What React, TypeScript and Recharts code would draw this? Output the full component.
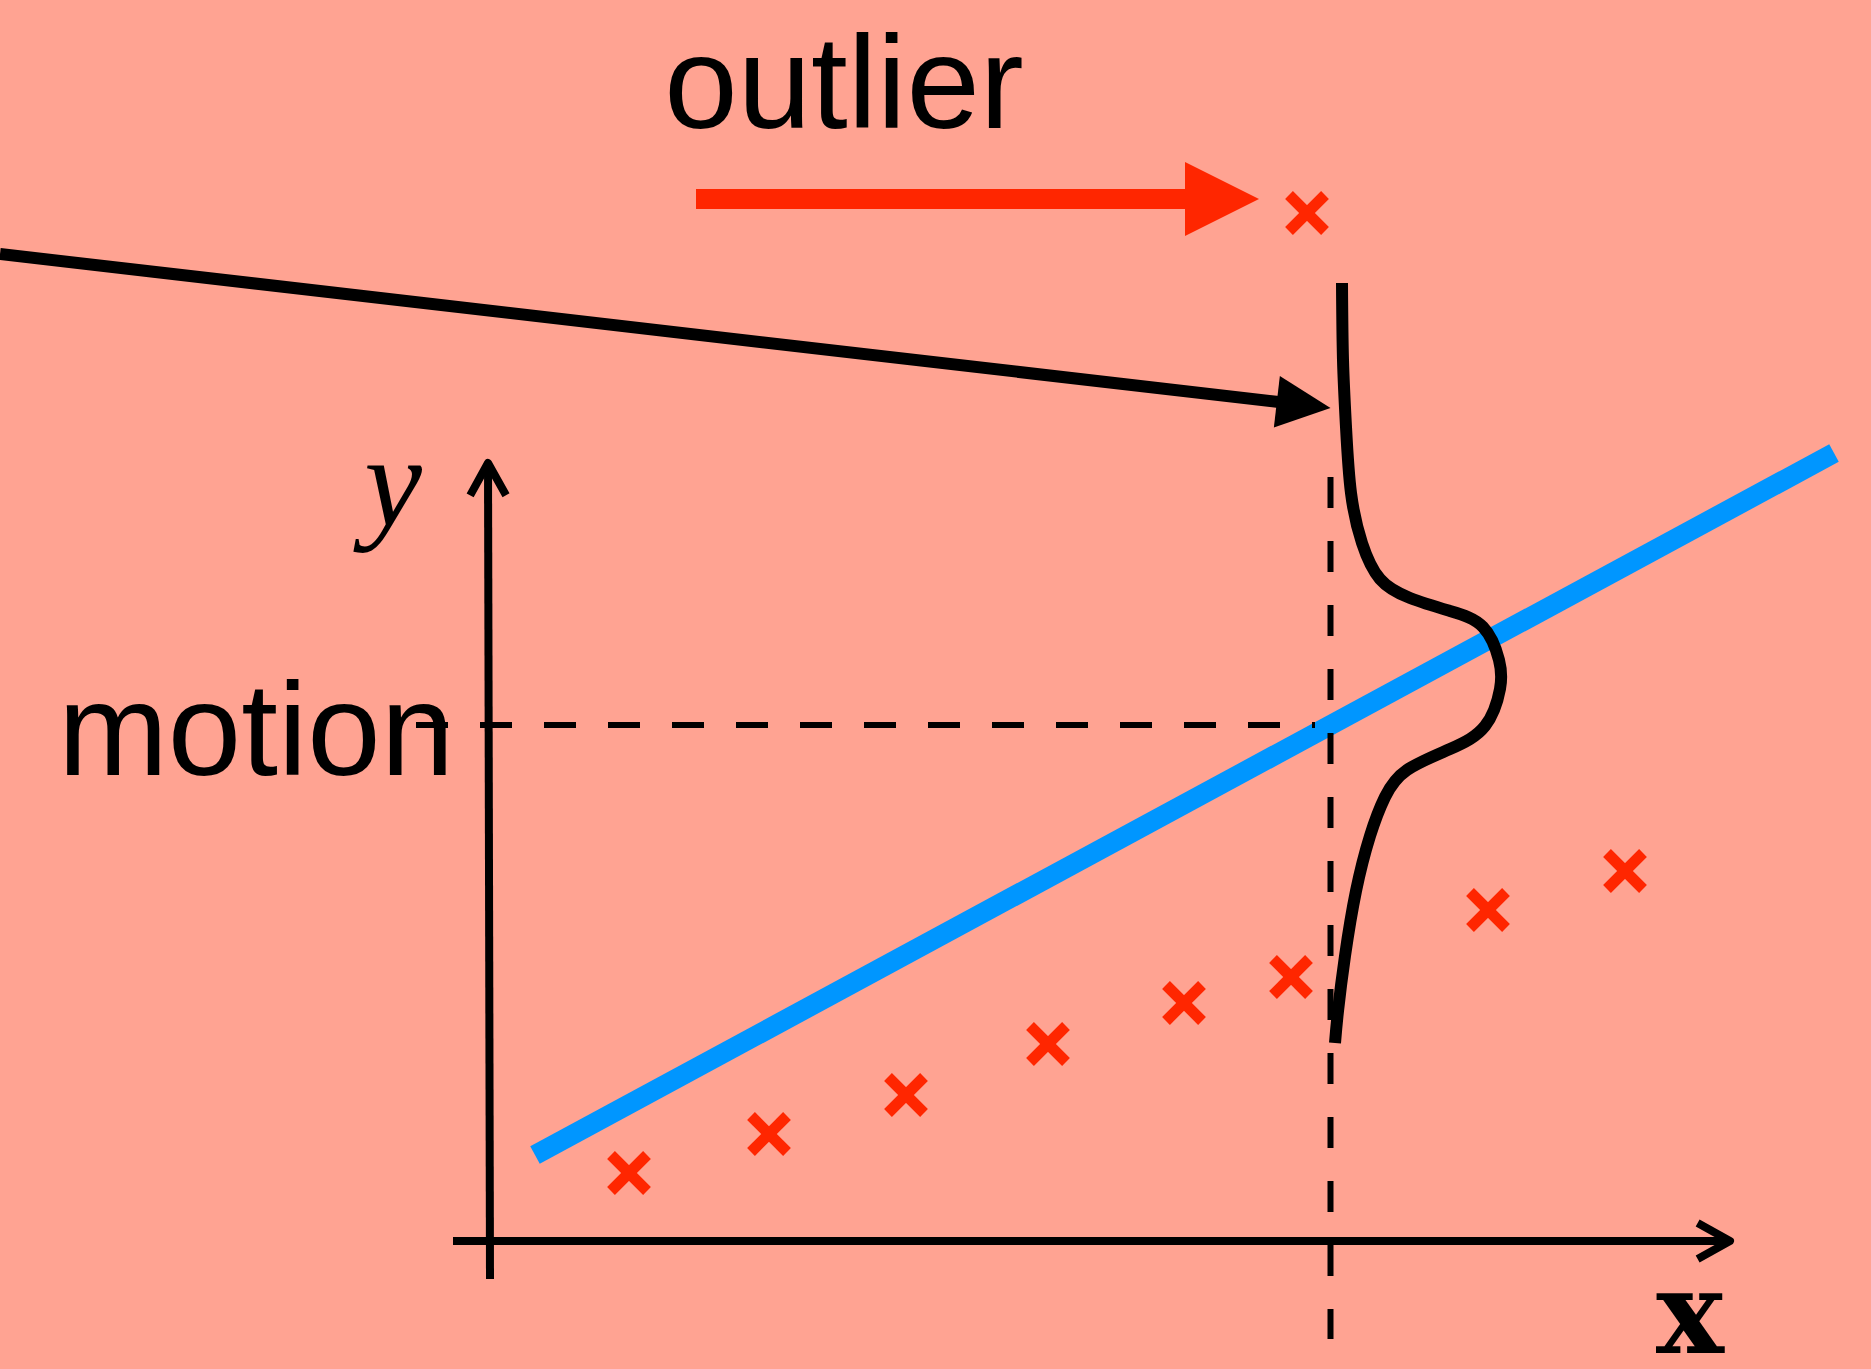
import React from "react"
import { ComposedChart, Line, Scatter, XAxis, YAxis } from "recharts"

const W = 1871
const H = 1369
const X_DOMAIN: [number, number] = [-4.9, 13.81]
const Y_DOMAIN: [number, number] = [-1.28, 12.41]
const KX = W / (X_DOMAIN[1] - X_DOMAIN[0])
const KY = H / (Y_DOMAIN[1] - Y_DOMAIN[0])

const BG = "#FFA392"
const RED = "#FF2600"
const BLUE = "#0096FF"
const INK = "#000000"

// observed samples
const samples = [
  { x: 1.39, y: 0.68 },
  { x: 2.79, y: 1.07 },
  { x: 4.16, y: 1.46 },
  { x: 5.58, y: 1.97 },
  { x: 6.94, y: 2.38 },
  { x: 8.01, y: 2.64 },
  { x: 9.98, y: 3.31 },
  { x: 11.35, y: 3.7 },
]
const outlier = [{ x: 8.17, y: 10.28 }]

// fitted line
const fitLine = [
  { x: 0.45, y: 0.86 },
  { x: 13.44, y: 7.88 },
]

// query point and predicted motion
const QUERY_X = 8.405
const MOTION = 5.16
const motionGuide = [
  { x: -0.74, y: MOTION },
  { x: 8.25, y: MOTION },
]
const queryGuide = [
  { x: QUERY_X, y: 7.64 },
  { x: QUERY_X, y: -0.98 },
]

// predictive distribution, drawn sideways at the query point
const likelihood = [
  { x: 8.52, y: 9.58 },
  { x: 8.53, y: 8.81 },
  { x: 8.56, y: 8.14 },
  { x: 8.61, y: 7.48 },
  { x: 8.72, y: 6.98 },
  { x: 8.9, y: 6.62 },
  { x: 9.2, y: 6.43 },
  { x: 9.6, y: 6.3 },
  { x: 9.93, y: 6.14 },
  { x: 10.09, y: 5.81 },
  { x: 10.1, y: 5.52 },
  { x: 9.95, y: 5.15 },
  { x: 9.6, y: 4.92 },
  { x: 9.17, y: 4.71 },
  { x: 8.95, y: 4.44 },
  { x: 8.8, y: 4.05 },
  { x: 8.66, y: 3.5 },
  { x: 8.55, y: 2.85 },
  { x: 8.48, y: 2.3 },
  { x: 8.45, y: 1.98 },
]

// axes and arrows
const xAxisLine = [
  { x: -0.37, y: 0 },
  { x: 12.4, y: 0 },
]
const yAxisLine = [
  { x: 0.0, y: -0.38 },
  { x: -0.02, y: 7.78 },
]
const pointerArrow = [
  { x: -4.9, y: 9.87 },
  { x: QUERY_X, y: 8.33 },
]
const outlierArrow = [
  { x: 2.06, y: 10.42 },
  { x: 7.69, y: 10.42 },
]

const sansLabels = [
  { x: 3.54, y: 11.13, text: "outlier" },
  { x: -2.34, y: 4.66, text: "motion" },
]
const yLabel = [{ x: -0.97, y: 7.16, text: "y" }]
const xLabel = [{ x: 12.0, y: -1.12, text: "x" }]

type Pt = { x: number; y: number }

function pxAngle(a: Pt, b: Pt) {
  return Math.atan2(-(b.y - a.y) * KY, (b.x - a.x) * KX)
}

function backOff(a: Pt, b: Pt, px: number): Pt {
  const ang = pxAngle(a, b)
  return { x: b.x - (Math.cos(ang) * px) / KX, y: b.y + (Math.sin(ang) * px) / KY }
}

function tipOf(line: Pt[]) {
  const a = line[line.length - 2]
  const b = line[line.length - 1]
  return { x: b.x, y: b.y, angle: pxAngle(a, b) }
}

const RED_HEAD = { len: 74, half: 37 }
const BLACK_HEAD = { len: 54, half: 26 }

const redShaft = [outlierArrow[0], backOff(outlierArrow[0], outlierArrow[1], RED_HEAD.len - 2)]
const blackShaft = [pointerArrow[0], backOff(pointerArrow[0], pointerArrow[1], BLACK_HEAD.len - 4)]

const filledHead = (len: number, half: number, color: string) => (props: any) => {
  const { cx, cy, payload } = props
  const c = Math.cos(payload.angle)
  const s = Math.sin(payload.angle)
  const bx = cx - len * c
  const by = cy - len * s
  const pts = [
    [cx, cy],
    [bx - half * s, by + half * c],
    [bx + half * s, by - half * c],
  ]
  return <polygon points={pts.map((p) => p.join(",")).join(" ")} fill={color} />
}

const openHead = (props: any) => {
  const { cx, cy, payload } = props
  const L = 37
  const t = (29 * Math.PI) / 180
  const a1 = payload.angle + t
  const a2 = payload.angle - t
  const d = `M${cx - L * Math.cos(a1)},${cy - L * Math.sin(a1)} L${cx},${cy} L${cx - L * Math.cos(a2)},${cy - L * Math.sin(a2)}`
  return <path d={d} fill="none" stroke={INK} strokeWidth={8} strokeLinejoin="round" strokeLinecap="butt" />
}

const Cross = (props: any) => {
  const { cx, cy } = props
  const h = 18
  return (
    <g stroke={RED} strokeWidth={11}>
      <line x1={cx - h} y1={cy - h} x2={cx + h} y2={cy + h} />
      <line x1={cx - h} y1={cy + h} x2={cx + h} y2={cy - h} />
    </g>
  )
}

const textShape = (style: React.CSSProperties) => (props: any) => (
  <text x={props.cx} y={props.cy} textAnchor="middle" fill={INK} style={style}>
    {props.payload.text}
  </text>
)

const axisHeads = [tipOf(xAxisLine), tipOf(yAxisLine)]
const redHeads = [tipOf(outlierArrow)]
const blackHeads = [tipOf(pointerArrow)]

const lineProps = {
  dataKey: "y",
  dot: false,
  activeDot: false,
  isAnimationActive: false,
  type: "linear" as const,
  strokeLinecap: "butt" as const,
}

export default function App() {
  return (
    <div style={{ position: "fixed", left: 0, top: 0, width: W, height: H, background: BG }}>
      <ComposedChart width={W} height={H} margin={{ top: 0, right: 0, bottom: 0, left: 0 }}>
        <XAxis type="number" dataKey="x" domain={X_DOMAIN} hide allowDataOverflow />
        <YAxis type="number" dataKey="y" domain={Y_DOMAIN} hide allowDataOverflow />

        <Line {...lineProps} data={fitLine} stroke={BLUE} strokeWidth={20} />
        <Line {...lineProps} data={motionGuide} stroke={INK} strokeWidth={6} strokeDasharray="32 32" />
        <Line {...lineProps} data={queryGuide} stroke={INK} strokeWidth={6} strokeDasharray="31 33" />
        <Line {...lineProps} data={xAxisLine} stroke={INK} strokeWidth={8} />
        <Line {...lineProps} data={yAxisLine} stroke={INK} strokeWidth={8} />
        <Line {...lineProps} data={likelihood} type="natural" stroke={INK} strokeWidth={12} />
        <Line {...lineProps} data={redShaft} stroke={RED} strokeWidth={20} />
        <Line {...lineProps} data={blackShaft} stroke={INK} strokeWidth={12} />

        <Scatter data={samples} shape={Cross} isAnimationActive={false} />
        <Scatter data={outlier} shape={Cross} isAnimationActive={false} />
        <Scatter data={axisHeads} shape={openHead} isAnimationActive={false} />
        <Scatter data={redHeads} shape={filledHead(RED_HEAD.len, RED_HEAD.half, RED)} isAnimationActive={false} />
        <Scatter data={blackHeads} shape={filledHead(BLACK_HEAD.len, BLACK_HEAD.half, INK)} isAnimationActive={false} />

        <Scatter
          data={sansLabels}
          isAnimationActive={false}
          shape={textShape({ fontFamily: "'Liberation Sans', Arial, sans-serif", fontSize: 132 })}
        />
        <Scatter
          data={yLabel}
          isAnimationActive={false}
          shape={textShape({ fontFamily: "'Liberation Serif', serif", fontStyle: "italic", fontSize: 130 })}
        />
        <Scatter
          data={xLabel}
          isAnimationActive={false}
          shape={textShape({ fontFamily: "'DejaVu Serif', serif", fontWeight: "bold", fontSize: 114 })}
        />
      </ComposedChart>
    </div>
  )
}
